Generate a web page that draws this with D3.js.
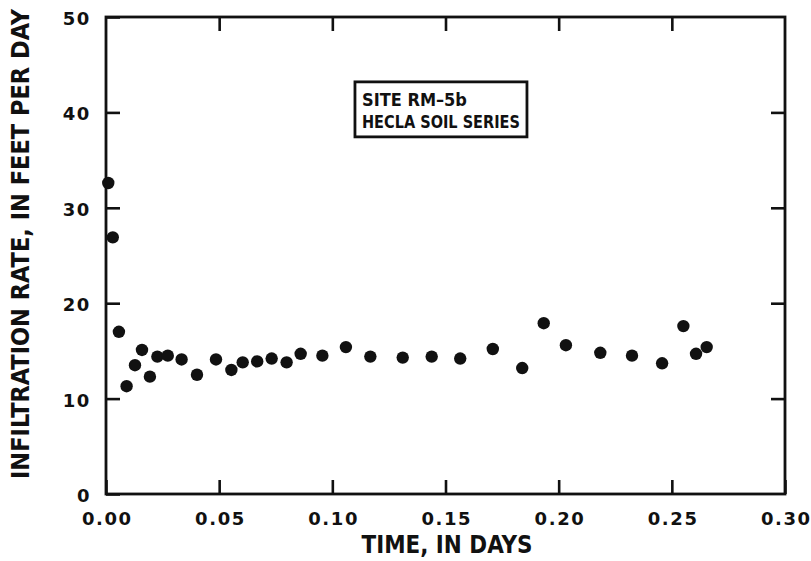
<!DOCTYPE html>
<html>
<head>
<meta charset="utf-8">
<script src="https://cdn.jsdelivr.net/npm/d3@7"></script>
<style>
  html, body { margin: 0; padding: 0; background: #fff; }
  svg text { font-family: "DejaVu Sans Condensed", "Liberation Sans Narrow", "DejaVu Sans", sans-serif; fill: #111; }
  svg .tick text { font-family: "DejaVu Sans", sans-serif; }
</style>
</head>
<body>
<svg id="chart" width="811" height="561"></svg>
<script>
// Elapsed time (days) and measured infiltration rate (ft/day)
const timeDays = [0.001, 0.003, 0.0057, 0.0091, 0.0128, 0.0159, 0.0194, 0.0227, 0.0273, 0.0334,
  0.0402, 0.0486, 0.0554, 0.0604, 0.0668, 0.0732, 0.0798, 0.0860, 0.0956, 0.1060,
  0.1168, 0.1311, 0.1439, 0.1565, 0.1709, 0.1839, 0.1934, 0.2032, 0.2184, 0.2324,
  0.2457, 0.2551, 0.2607, 0.2654];
const infiltrationRate = [32.6, 26.9, 17.0, 11.3, 13.5, 15.1, 12.3, 14.4, 14.5, 14.1,
  12.5, 14.1, 13.0, 13.8, 13.9, 14.2, 13.8, 14.7, 14.5, 15.4,
  14.4, 14.3, 14.4, 14.2, 15.2, 13.2, 17.9, 15.6, 14.8, 14.5,
  13.7, 17.6, 14.7, 15.4];
const xTicks = [0, 0.05, 0.10, 0.15, 0.20, 0.25, 0.30];
const yTicks = [0, 10, 20, 30, 40, 50];
const siteLabel = ["SITE RM\u20135b", "HECLA SOIL SERIES"];
const xTitle = "TIME, IN DAYS";
const yTitle = "INFILTRATION RATE, IN FEET PER DAY";

const W = 811, H = 561;
const margin = { left: 106, top: 17, right: 26, bottom: 67 };
const iw = W - margin.left - margin.right;
const ih = H - margin.top - margin.bottom;

const svg = d3.select("#chart");
const g = svg.append("g").attr("transform", `translate(${margin.left},${margin.top})`);

const x = d3.scaleLinear().domain([0, 0.30]).range([0, iw]);
const y = d3.scaleLinear().domain([0, 50]).range([ih, 0]);

const tickLen = 14;
const styleAxis = sel => {
  sel.select(".domain").remove();
  sel.selectAll(".tick line").attr("stroke", "#111").attr("stroke-width", 2.6);
  sel.selectAll(".tick text")
    .attr("font-size", 18).attr("font-weight", "bold")
    .attr("letter-spacing", 1.6);
};

// bottom axis with labels
g.append("g").attr("transform", `translate(0,${ih})`)
  .call(d3.axisBottom(x).tickValues(xTicks).tickFormat(d3.format(".2f"))
    .tickSizeInner(-tickLen).tickSizeOuter(0).tickPadding(18))
  .call(styleAxis)
  .call(s => s.selectAll(".tick text").attr("dx", 0.8));
// top axis, ticks only
g.append("g")
  .call(d3.axisTop(x).tickValues(xTicks.slice(1, -1)).tickFormat("")
    .tickSizeInner(-tickLen).tickSizeOuter(0))
  .call(styleAxis);
// left axis with labels
g.append("g")
  .call(d3.axisLeft(y).tickValues(yTicks).tickFormat(d3.format("d"))
    .tickSizeInner(-tickLen).tickSizeOuter(0).tickPadding(15))
  .call(styleAxis)
  .call(s => s.selectAll(".tick text").attr("dy", "0.42em"));
// right axis, ticks only
g.append("g").attr("transform", `translate(${iw},0)`)
  .call(d3.axisRight(y).tickValues(yTicks.slice(1, -1)).tickFormat("")
    .tickSizeInner(-tickLen).tickSizeOuter(0))
  .call(styleAxis);

// frame
g.append("rect").attr("x", 0).attr("y", 0).attr("width", iw).attr("height", ih)
  .attr("fill", "none").attr("stroke", "#111").attr("stroke-width", 2.8);

// data points
g.append("g").selectAll("circle")
  .data(timeDays.map((t, i) => ({ t, v: infiltrationRate[i] })))
  .join("circle")
  .attr("cx", d => x(d.t))
  .attr("cy", d => y(d.v))
  .attr("r", 6.2)
  .attr("fill", "#111");

// site annotation box
const box = g.append("g").attr("transform", `translate(${x(0.110)},${y(43.2)})`);
box.append("rect").attr("x", 0).attr("y", 0).attr("width", 172).attr("height", 55)
  .attr("fill", "#fff").attr("stroke", "#111").attr("stroke-width", 2.8);
box.selectAll("text").data(siteLabel).join("text")
  .attr("x", 7).attr("y", (d, i) => 24 + i * 22)
  .attr("font-size", 18).attr("font-weight", "bold")
  .attr("textLength", (d, i) => i === 0 ? 105 : 158)
  .attr("lengthAdjust", "spacingAndGlyphs")
  .text(d => d);

// axis titles
svg.append("text")
  .attr("x", 447).attr("y", 553)
  .attr("text-anchor", "middle").attr("font-size", 24).attr("font-weight", "bold")
  .attr("textLength", 171).attr("lengthAdjust", "spacingAndGlyphs")
  .text(xTitle);
svg.append("text")
  .attr("transform", `translate(29,244) rotate(-90)`)
  .attr("text-anchor", "middle").attr("font-size", 24).attr("font-weight", "bold")
  .attr("textLength", 470).attr("lengthAdjust", "spacingAndGlyphs")
  .text(yTitle);
</script>
</body>
</html>
